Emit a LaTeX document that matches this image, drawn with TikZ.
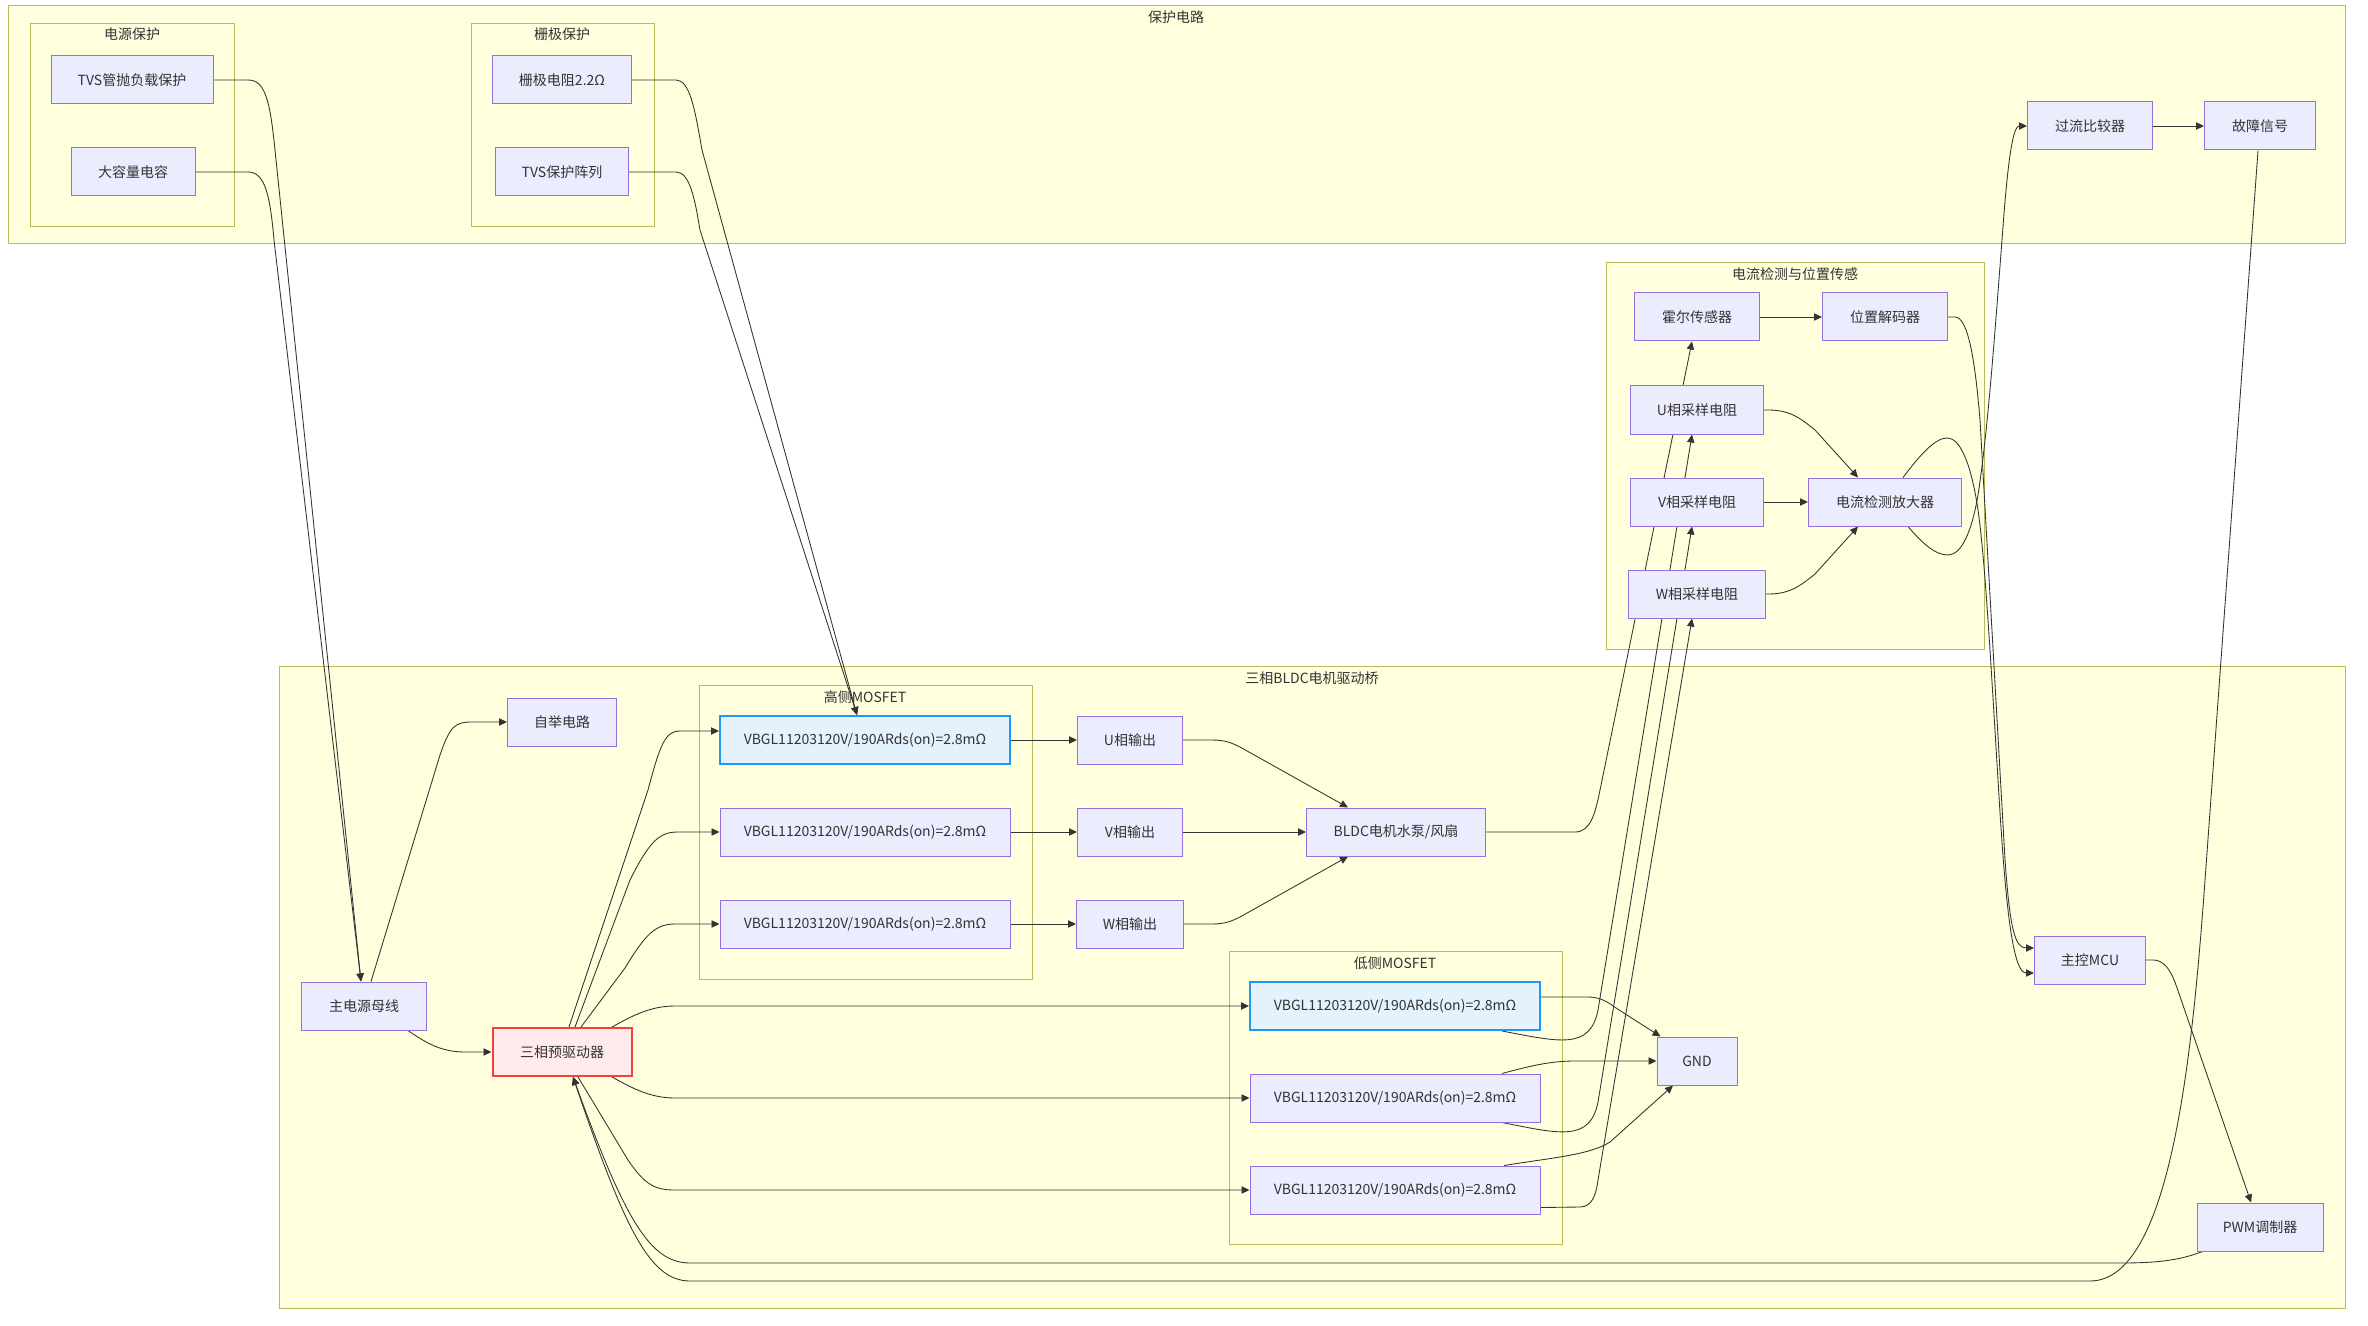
\documentclass[tikz,border=0pt]{standalone}
\usepackage{fontspec}
\setmainfont{Noto Sans CJK SC}
\usetikzlibrary{arrows.meta,calc}
\definecolor{grpF}{HTML}{FFFFDE}
\definecolor{grpB}{HTML}{AAAA33}
\definecolor{nodeF}{HTML}{ECECFF}
\definecolor{nodeB}{HTML}{9370DB}
\definecolor{blueF}{HTML}{E3F2FD}
\definecolor{blueB}{HTML}{2196F3}
\definecolor{redF}{HTML}{FFEBEE}
\definecolor{redB}{HTML}{F44336}
\definecolor{edgeC}{HTML}{333333}
\pgfdeclarelayer{bg}
\pgfdeclarelayer{edges}
\pgfsetlayers{bg,edges,main}
\begin{document}
\begin{tikzpicture}[x=0.75pt, y=-0.75pt,
  font=\fontsize{10.5}{12}\selectfont, text=edgeC,
  box/.style={draw=nodeB, fill=nodeF, line width=0.75pt, minimum height=36pt, inner sep=0pt},
  bw/.style={minimum width=#1*0.75pt},
  hil/.style={draw=blueB, fill=blueF, line width=1.5pt},
  warn/.style={draw=redB, fill=redF, line width=1.5pt},
  grp/.style={draw=grpB!80!grpF, fill=grpF, line width=0.75pt},
  gt/.style={inner sep=0pt, text=edgeC},
  ar/.style={draw=edgeC, line width=0.65pt, -{Triangle[length=6pt,width=5.5pt]}}]
\useasboundingbox (0,0) rectangle (2368,1326);
\begin{pgfonlayer}{bg}
\fill[white] (0,0) rectangle (2368,1326);
\draw[grp] (8,6) rectangle (2345,244);
\draw[grp] (30,24) rectangle (234,227);
\draw[grp] (471,24) rectangle (654,227);
\draw[grp] (1606,263) rectangle (1984,649);
\draw[grp] (279,666) rectangle (2345,1308);
\draw[grp] (699,685) rectangle (1032,979);
\draw[grp] (1229,951) rectangle (1562,1244);
\end{pgfonlayer}
% group titles
\node[gt] (tprot) at (1176,17) {保护电路};
\node[gt] (tpwr) at (132,34) {电源保护};
\node[gt] (tgate) at (562,34) {栅极保护};
\node[gt] (tsense) at (1795,274) {电流检测与位置传感};
\node[gt] (tbridge) at (1312,678) {三相BLDC电机驱动桥};
\node[gt] (ths) at (865,697) {高侧MOSFET};
\node[gt] (tls) at (1395,963) {低侧MOSFET};
% nodes
\node[box,bw=162] (tvs) at (132,80) {TVS管抛负载保护};
\node[box,bw=124] (cap) at (133,172) {大容量电容};
\node[box,bw=139] (rg) at (562,80) {栅极电阻2.2Ω};
\node[box,bw=133] (tvsa) at (562,172) {TVS保护阵列};
\node[box,bw=125] (ocp) at (2090,126) {过流比较器};
\node[box,bw=111] (flt) at (2260,126) {故障信号};
\node[box,bw=125] (hall) at (1697,317) {霍尔传感器};
\node[box,bw=125] (dec) at (1885,317) {位置解码器};
\node[box,bw=133] (us) at (1697,410) {U相采样电阻};
\node[box,bw=133] (vs) at (1697,502) {V相采样电阻};
\node[box,bw=137] (ws) at (1697,594) {W相采样电阻};
\node[box,bw=153] (amp) at (1885,502) {电流检测放大器};
\node[box,bw=109] (boot) at (562,722) {自举电路};
\node[box,bw=125] (bus) at (364,1006) {主电源母线};
\node[box,warn,bw=139] (pd) at (562,1052) {三相预驱动器};
\node[box,hil,bw=290] (hs1) at (865,740) {VBGL11203120V/190ARds(on)=2.8mΩ};
\node[box,bw=290] (hs2) at (865,832) {VBGL11203120V/190ARds(on)=2.8mΩ};
\node[box,bw=290] (hs3) at (865,924) {VBGL11203120V/190ARds(on)=2.8mΩ};
\node[box,bw=105] (uo) at (1130,740) {U相输出};
\node[box,bw=105] (vo) at (1130,832) {V相输出};
\node[box,bw=107] (wo) at (1130,924) {W相输出};
\node[box,bw=179] (bldc) at (1396,832) {BLDC电机水泵/风扇};
\node[box,hil,bw=290] (ls1) at (1395,1006) {VBGL11203120V/190ARds(on)=2.8mΩ};
\node[box,bw=290] (ls2) at (1395,1098) {VBGL11203120V/190ARds(on)=2.8mΩ};
\node[box,bw=290] (ls3) at (1395,1190) {VBGL11203120V/190ARds(on)=2.8mΩ};
\node[box,bw=80] (gnd) at (1697,1061) {GND};
\node[box,bw=111] (mcu) at (2090,960) {主控MCU};
\node[box,bw=126] (pwm) at (2260,1227) {PWM调制器};
% edges
\begin{pgfonlayer}{edges}
\draw[ar] (tvs.east) -- (248,80) .. controls (265,80) and (270,100) .. (275,150) -- ($(bus.north)+(-3,0)$);
\draw[ar] (cap.east) -- (248,172) .. controls (265,172) and (270,195) .. (274,240) -- ($(bus.north)+(-3,0)$);
\draw[ar] (rg.east) -- (676,80) .. controls (690,80) and (695,110) .. (702,150) -- ($(hs1.north)+(-8,0)$);
\draw[ar] (tvsa.east) -- (676,172) .. controls (690,172) and (695,200) .. (700,230) -- ($(hs1.north)+(-8,0)$);
\draw[ar] ($(bus.north)+(7,0)$) -- (440,755) .. controls (450,726) and (455,722) .. (472,722) -- (boot.west);
\draw[ar] ($(bus.south)+(44,0)$) .. controls (425,1042) and (440,1052) .. (465,1052) -- (pd.west);
\draw[ar] ($(pd.north)+(7,0)$) -- (648,790) .. controls (660,745) and (665,731) .. (680,731) -- ($(hs1.west)+(0,-9)$);
\draw[ar] ($(pd.north)+(13,0)$) -- (630,880) .. controls (650,840) and (660,832) .. (678,832) -- (hs2.west);
\draw[ar] ($(pd.north)+(19,0)$) -- (625,968) .. controls (645,935) and (655,924) .. (675,924) -- (hs3.west);
\draw[ar] ($(pd.north)+(50,0)$) .. controls (632,1016) and (650,1006) .. (675,1006) -- (ls1.west);
\draw[ar] ($(pd.south)+(50,0)$) .. controls (632,1088) and (650,1098) .. (675,1098) -- (ls2.west);
\draw[ar] ($(pd.south)+(16,0)$) -- (628,1160) .. controls (645,1185) and (655,1190) .. (675,1190) -- (ls3.west);
\draw[ar] (hs1.east) -- (uo.west);
\draw[ar] (hs2.east) -- (vo.west);
\draw[ar] (hs3.east) -- (wo.west);
\draw[ar] (uo.east) -- (1212,740) .. controls (1225,740) and (1232,743) .. (1240,747) -- ($(bldc.north)+(-48,0)$);
\draw[ar] (vo.east) -- (bldc.west);
\draw[ar] (wo.east) -- (1212,924) .. controls (1225,924) and (1232,921) .. (1240,917) -- ($(bldc.south)+(-48,0)$);
\draw[ar] (bldc.east) -- (1575,832) .. controls (1590,832) and (1595,815) .. (1600,790) -- ($(hall.south)+(-5,0)$);
\draw[ar] ($(ls1.south)+(107,0)$) .. controls (1560,1042) and (1590,1050) .. (1598,1010) -- ($(us.south)+(-5,0)$);
\draw[ar] ($(ls2.south)+(107,0)$) .. controls (1560,1134) and (1590,1142) .. (1598,1102) -- ($(vs.south)+(-5,0)$);
\draw[ar] ($(ls3.south east)+(0,-7)$) -- (1580,1207) .. controls (1592,1207) and (1596,1195) .. (1598,1180) -- ($(ws.south)+(-5,0)$);
\draw[ar] ($(ls1.east)+(0,-9)$) -- (1588,997) .. controls (1600,997) and (1608,1002) .. (1616,1008) -- ($(gnd.north west)+(4,0)$);
\draw[ar] ($(ls2.north)+(107,0)$) .. controls (1530,1066) and (1550,1061) .. (1575,1061) -- (gnd.west);
\draw[ar] ($(ls3.north)+(109,0)$) .. controls (1550,1158) and (1590,1155) .. (1610,1142) -- ($(gnd.south)+(-24,0)$);
\draw[ar] (hall.east) -- (dec.west);
\draw[ar] (us.east) -- (1768,410) .. controls (1790,410) and (1800,418) .. (1815,430) -- ($(amp.north)+(-27,0)$);
\draw[ar] (vs.east) -- (amp.west);
\draw[ar] (ws.east) -- (1768,594) .. controls (1790,594) and (1800,586) .. (1815,574) -- ($(amp.south)+(-27,0)$);
\draw[ar] ($(amp.north)+(18,0)$) .. controls (1920,455) and (1935,438) .. (1947,438) .. controls (1962,438) and (1972,470) .. (1978,510) .. controls (1985,560) and (1990,650) .. (1998,780) .. controls (2005,900) and (2012,973) .. ($(mcu.west)+(0,13)$);
\draw[ar] ($(amp.south)+(23,0)$) .. controls (1922,543) and (1935,555) .. (1948,555) .. controls (1962,555) and (1972,530) .. (1978,495) .. controls (1988,430) and (1995,330) .. (2002,240) .. controls (2007,170) and (2012,126) .. (ocp.west);
\draw[ar] (dec.east) -- (1955,317) .. controls (1968,317) and (1975,360) .. (1980,420) -- (2005,860) .. controls (2010,930) and (2015,948) .. ($(mcu.west)+(0,-12)$);
\draw[ar] (ocp.east) -- (flt.west);
\draw[ar] ($(flt.south)+(-2,0)$) -- (2205,880) .. controls (2192,1060) and (2170,1281) .. (2090,1281) -- (690,1281) .. controls (650,1281) and (625,1230) .. ($(pd.south)+(11,0)$);
\draw[ar] ($(pwm.south west)+(6,0)$) .. controls (2180,1260) and (2160,1263) .. (2120,1263) -- (690,1263) .. controls (650,1263) and (625,1220) .. ($(pd.south)+(11,0)$);
\draw[ar] (mcu.east) -- (2153,960) .. controls (2163,960) and (2170,968) .. (2176,985) -- ($(pwm.north)+(-9,0)$);
\end{pgfonlayer}
\end{tikzpicture}
\end{document}
